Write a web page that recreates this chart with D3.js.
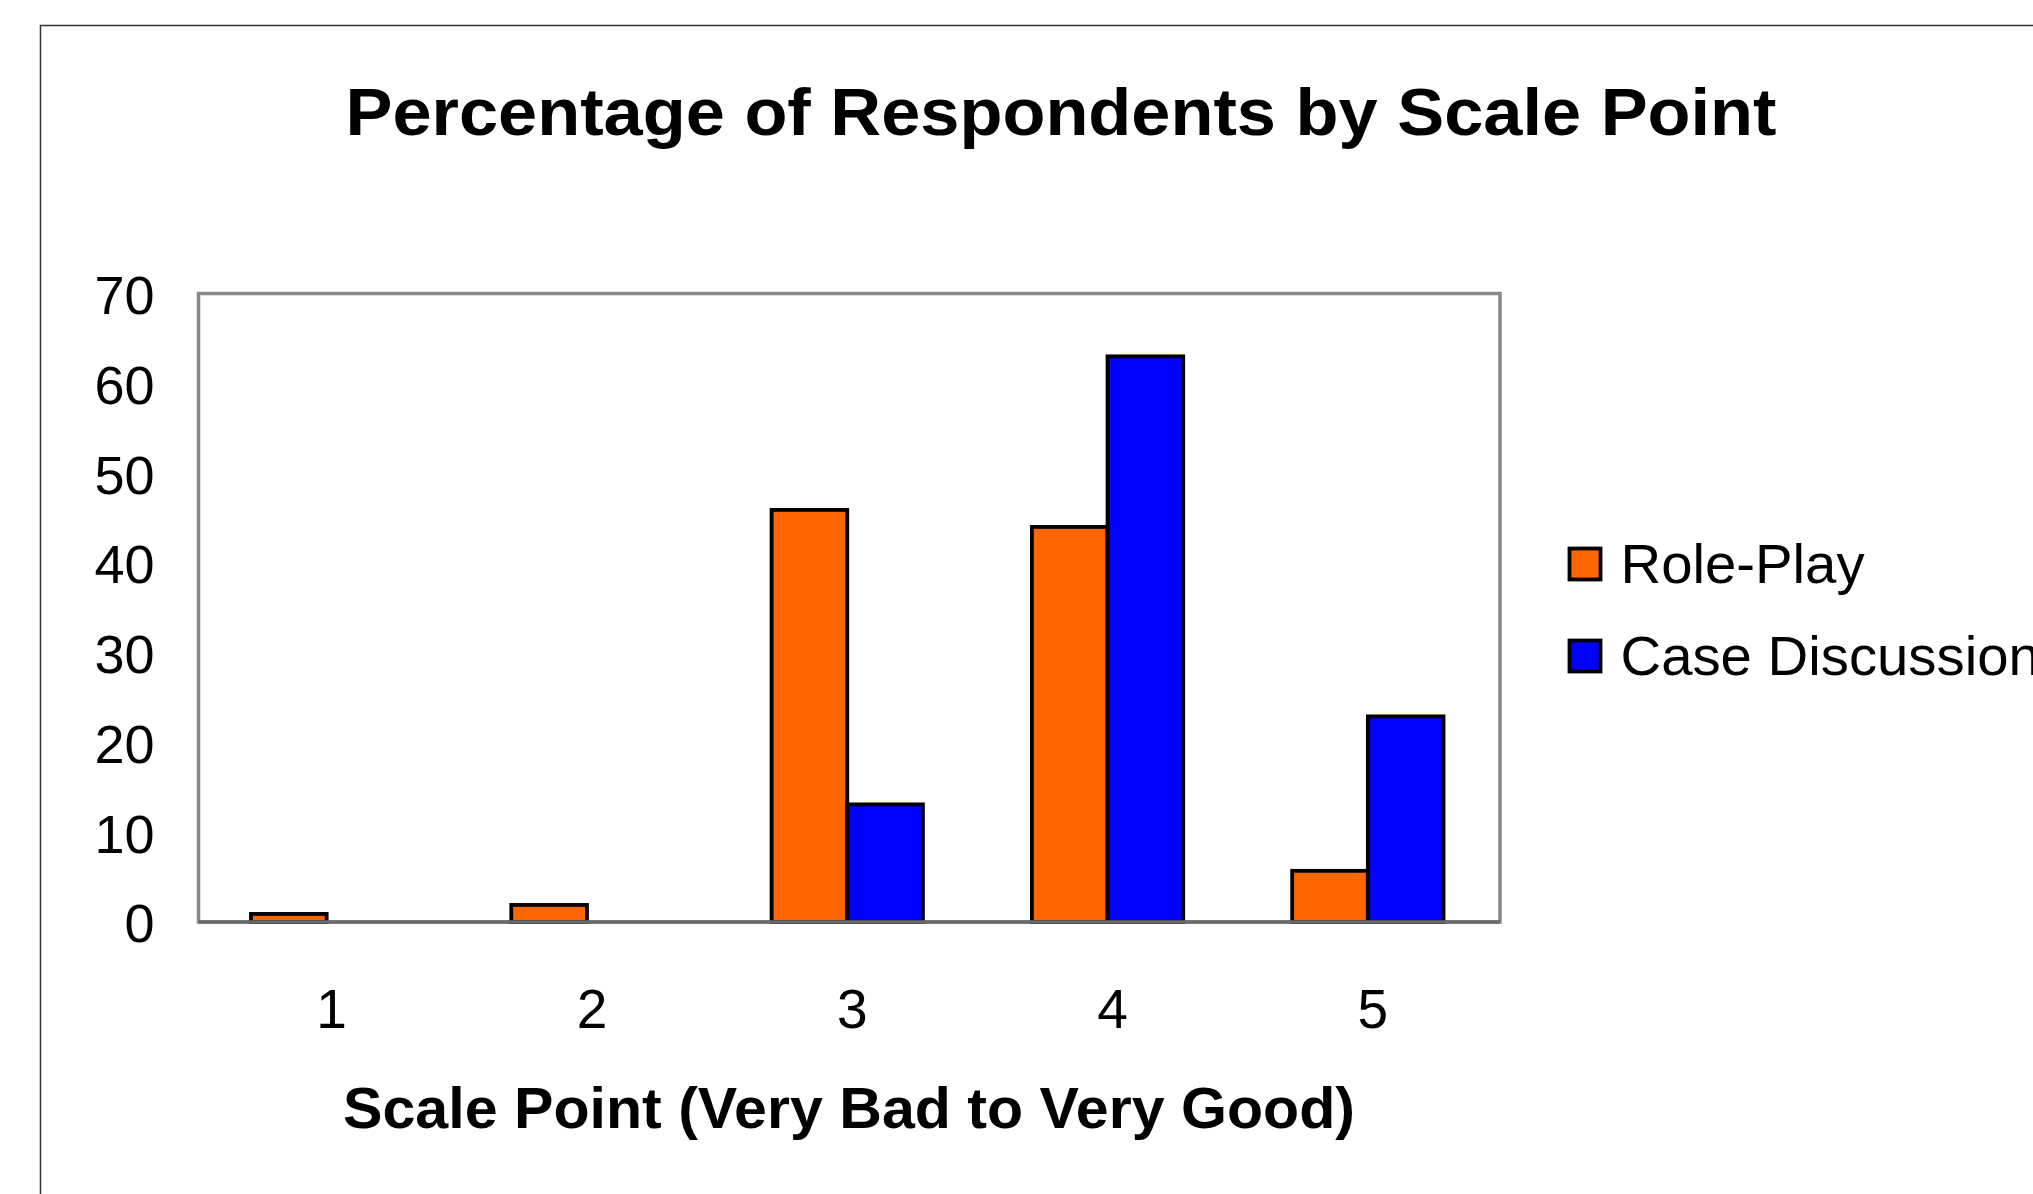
<!DOCTYPE html>
<html>
<head>
<meta charset="utf-8">
<script src="https://cdn.jsdelivr.net/npm/d3@7"></script>
<style>
  html, body { margin: 0; padding: 0; background: #fff; overflow: hidden; }
  svg { display: block; }
  text { font-family: "Liberation Sans", Arial, sans-serif; fill: #000; }
</style>
</head>
<body>
<script>
const categories = ["1", "2", "3", "4", "5"];
const seriesNames = ["Role-Play", "Case Discussion"];
const rolePlay = [0.9, 1.9, 45.9, 44.0, 5.7];
const caseDiscussion = [0, 0, 13.1, 63.0, 22.9];
const yTicks = [0, 10, 20, 30, 40, 50, 60, 70];
const colors = ["#FF6600", "#0000FF"];
const titleText = "Percentage of Respondents by Scale Point";
const xTitleText = "Scale Point (Very Bad to Very Good)";

const W = 2033, H = 1194;
const plot = { left: 198.5, right: 1500, top: 293.5, bottom: 922 };

const svg = d3.select("body").append("svg").attr("width", W).attr("height", H);

// outer chart border (extends beyond the canvas)
svg.append("rect")
  .attr("x", 40.5).attr("y", 25.5)
  .attr("width", W + 100).attr("height", H + 100)
  .attr("fill", "none").attr("stroke", "#333").attr("stroke-width", 1.5);

const x0 = d3.scaleBand().domain(categories).range([plot.left - 2, plot.right - 2]).padding(0);
const x1 = d3.scaleBand().domain(seriesNames).range([0, x0.bandwidth()]).paddingInner(0).paddingOuter(0.72);
const y = d3.scaleLinear().domain([0, 70]).range([plot.bottom, plot.top]);

// plot area border
svg.append("rect")
  .attr("x", plot.left).attr("y", plot.top)
  .attr("width", plot.right - plot.left).attr("height", plot.bottom - plot.top)
  .attr("fill", "#fff").attr("stroke", "#888").attr("stroke-width", 3.5);

// bars
const data = categories.map((c, i) => ({ cat: c, values: [
  { s: seriesNames[0], v: rolePlay[i], col: colors[0] },
  { s: seriesNames[1], v: caseDiscussion[i], col: colors[1] }
]}));

const groups = svg.append("g").selectAll("g").data(data).join("g")
  .attr("transform", d => `translate(${x0(d.cat)},0)`);
groups.selectAll("rect").data(d => d.values.filter(e => e.v > 0)).join("rect")
  .attr("x", d => x1(d.s))
  .attr("width", x1.bandwidth())
  .attr("y", d => y(d.v))
  .attr("height", d => y(0) - y(d.v))
  .attr("fill", d => d.col)
  .attr("stroke", "#000")
  .attr("stroke-width", 3.8);

// x axis line
const xAxis = svg.append("g").attr("transform", `translate(0,${plot.bottom})`)
  .call(d3.axisBottom(x0).tickSize(0).tickPadding(0));
xAxis.select(".domain").attr("d", `M${plot.left},0H${plot.right}`)
  .attr("stroke", "#6a6a6a").attr("stroke-width", 3.5);
xAxis.selectAll(".tick text")
  .attr("font-size", 55).attr("dy", 0).attr("y", 106).attr("x", 5)
  .attr("fill", "#000")
  .style("font-family", '"Liberation Sans", Arial, sans-serif');

// y axis
const yAxis = svg.append("g").attr("transform", `translate(${plot.left},0)`)
  .call(d3.axisLeft(y).tickValues(yTicks).tickSize(0).tickPadding(44));
yAxis.select(".domain").remove();
yAxis.selectAll(".tick text")
  .attr("font-size", 54).attr("dy", "0.37em")
  .attr("fill", "#000")
  .style("font-family", '"Liberation Sans", Arial, sans-serif');

// title
svg.append("text")
  .attr("x", 1061).attr("y", 135)
  .attr("text-anchor", "middle")
  .attr("font-size", 66).attr("font-weight", "bold")
  .attr("textLength", 1431).attr("lengthAdjust", "spacingAndGlyphs")
  .text(titleText);

// x axis title
svg.append("text")
  .attr("x", 849).attr("y", 1128)
  .attr("text-anchor", "middle")
  .attr("font-size", 57).attr("font-weight", "bold")
  .attr("textLength", 1012).attr("lengthAdjust", "spacingAndGlyphs")
  .text(xTitleText);

// legend
const legend = svg.append("g").selectAll("g").data(seriesNames).join("g")
  .attr("transform", (d, i) => `translate(1569.5,${548.5 + i * 92})`);
legend.append("rect")
  .attr("width", 31).attr("height", 31)
  .attr("fill", (d, i) => colors[i])
  .attr("stroke", "#000").attr("stroke-width", 3.8);
legend.append("text")
  .attr("x", 51).attr("y", 34.5)
  .attr("font-size", 56.3)
  .text(d => d);
</script>
</body>
</html>
